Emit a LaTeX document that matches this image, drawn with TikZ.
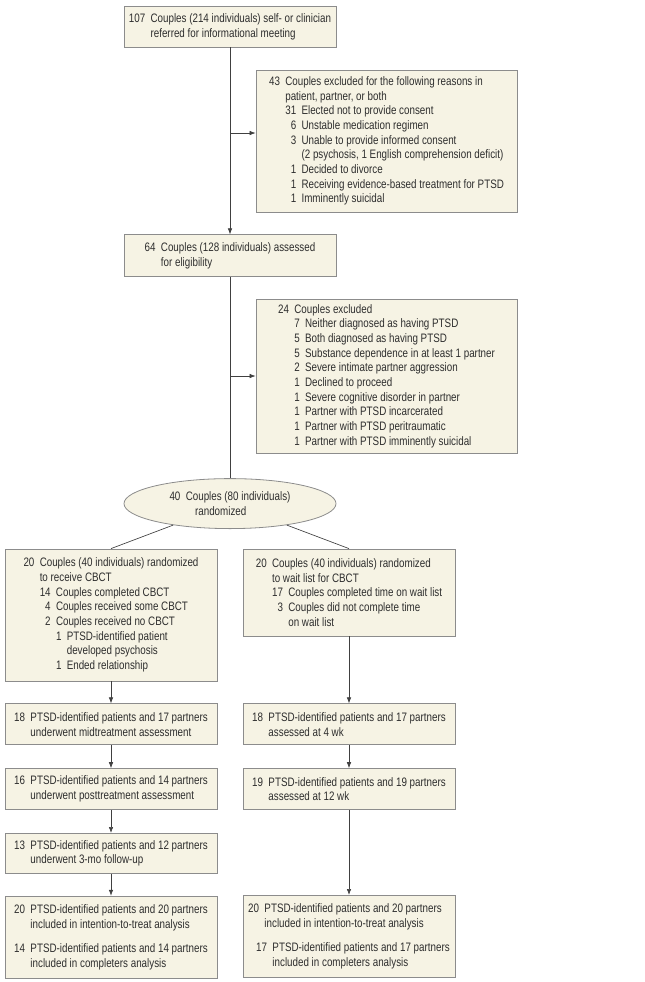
\documentclass[tikz,border=0pt]{standalone}
\usepackage{fontspec}
\setmainfont{Liberation Sans}[FakeStretch=0.8]
\usepackage{tikz}
\usetikzlibrary{arrows.meta, positioning, shapes.geometric}
\definecolor{boxcream}{HTML}{F6F3E4}
\definecolor{boxedge}{HTML}{8C8C8C}
\definecolor{txtgray}{HTML}{2E2E2E}
\newcommand{\nr}[2]{\hphantom{#1}\llap{#2}\hspace{4pt}}
\newcommand{\ind}[1]{\hphantom{#1}\hspace{4pt}}

\begin{document}
\begin{tikzpicture}[x=0.75pt, y=-0.75pt,
  font=\fontsize{9.2}{11}\selectfont, text=txtgray,
  block/.style={rectangle, draw=boxedge, fill=boxcream, line width=0.6pt, minimum width=159pt, align=left, inner sep=0pt},
  exclbox/.style={block, minimum width=195.75pt},
  arrow/.style={-{Latex[length=4.5pt, width=3.4pt]}, line width=0.5pt, draw=black!75},
  link/.style={line width=0.5pt, draw=black!75}]

\useasboundingbox (0,0) rectangle (645,982);

\node[block, minimum height=30.75pt] (refer) at (230,26.5)
  {\nr{000}{107}Couples (214 individuals) self- or clinician\\\ind{000}referred for informational meeting};
\node[block, minimum height=31.5pt, below=140.25pt of refer] (assess)
  {\nr{00}{64}Couples (128 individuals) assessed\\\ind{00}for eligibility};
\node[exclbox, minimum height=106.5pt] (excl1) at (386.5,141)
  {\nr{00}{43}Couples excluded for the following reasons in\\
   \ind{00}patient, partner, or both\\
   \ind{00}\nr{00}{31}Elected not to provide consent\\
   \ind{00}\nr{00}{6}Unstable medication regimen\\
   \ind{00}\nr{00}{3}Unable to provide informed consent\\
   \ind{00}\ind{00}(2 psychosis, 1 English comprehension deficit)\\
   \ind{00}\nr{00}{1}Decided to divorce\\
   \ind{00}\nr{00}{1}Receiving evidence-based treatment for PTSD\\
   \ind{00}\nr{00}{1}Imminently suicidal};
\node[exclbox, minimum height=115.5pt] (excl2) at (386.5,376)
  {\nr{00}{24}Couples excluded\\
   \ind{00}\nr{0}{7}Neither diagnosed as having PTSD\\
   \ind{00}\nr{0}{5}Both diagnosed as having PTSD\\
   \ind{00}\nr{0}{5}Substance dependence in at least 1 partner\\
   \ind{00}\nr{0}{2}Severe intimate partner aggression\\
   \ind{00}\nr{0}{1}Declined to proceed\\
   \ind{00}\nr{0}{1}Severe cognitive disorder in partner\\
   \ind{00}\nr{0}{1}Partner with PTSD incarcerated\\
   \ind{00}\nr{0}{1}Partner with PTSD peritraumatic\\
   \ind{00}\nr{0}{1}Partner with PTSD imminently suicidal};
\node[ellipse, draw=boxedge, fill=boxcream, line width=0.6pt, minimum width=159pt, minimum height=37.5pt, inner sep=0pt, align=left, below=150.75pt of assess] (rand)
  {\nr{00}{40}Couples (80 individuals)\\\ind{00}\hspace{7pt}randomized};

\node[block, minimum height=99pt] (cbct) at (111,615)
  {\nr{00}{20}Couples (40 individuals) randomized\\
   \ind{00}to receive CBCT\\
   \ind{00}\nr{00}{14}Couples completed CBCT\\
   \ind{00}\nr{00}{4}Couples received some CBCT\\
   \ind{00}\nr{00}{2}Couples received no CBCT\\
   \ind{00}\ind{00}\nr{0}{1}PTSD-identified patient\\
   \ind{00}\ind{00}\ind{0}developed psychosis\\
   \ind{00}\ind{00}\nr{0}{1}Ended relationship};
\node[block, minimum height=65.25pt] (wait) at (349,592.5)
  {\nr{00}{20}Couples (40 individuals) randomized\\
   \ind{00}to wait list for CBCT\\
   \ind{00}\nr{00}{17}Couples completed time on wait list\\
   \ind{00}\nr{00}{3}Couples did not complete time\\
   \ind{00}\ind{00}on wait list};

\node[block, minimum height=30.75pt, below=16.5pt of cbct] (mid)
  {\nr{00}{18}PTSD-identified patients and 17 partners\\\ind{00}underwent midtreatment assessment};
\node[block, minimum height=30.75pt, below=17.25pt of mid] (post)
  {\nr{00}{16}PTSD-identified patients and 14 partners\\\ind{00}underwent posttreatment assessment};
\node[block, minimum height=30pt, below=17.25pt of post] (follow)
  {\nr{00}{13}PTSD-identified patients and 12 partners\\\ind{00}underwent 3-mo follow-up};
\node[block, minimum height=61.5pt, below=16.5pt of follow] (cbctan)
  {\nr{00}{20}PTSD-identified patients and 20 partners\\
   \ind{00}included in intention-to-treat analysis\\[7.5pt]
   \nr{00}{14}PTSD-identified patients and 14 partners\\
   \ind{00}included in completers analysis};

\node[block, minimum height=30.75pt, below=50.25pt of wait] (wk4)
  {\nr{00}{18}PTSD-identified patients and 17 partners\\\ind{00}assessed at 4 wk};
\node[block, minimum height=30.75pt, below=17.25pt of wk4] (wk12)
  {\nr{00}{19}PTSD-identified patients and 19 partners\\\ind{00}assessed at 12 wk};
\node[block, minimum height=61.5pt, below=63.75pt of wk12] (waitan)
  {\nr{00}{20}PTSD-identified patients and 20 partners\\
   \ind{00}included in intention-to-treat analysis\\[7.5pt]
   \hspace*{6pt}\nr{00}{17}PTSD-identified patients and 17 partners\\
   \hspace*{6pt}\ind{00}included in completers analysis};

\coordinate (br1) at (230,133);
\coordinate (br2) at (assess.south |- excl2.west);

\draw[arrow] (refer) -- (assess);
\draw[arrow] (br1) -- (br1 -| excl1.west);
\draw[link] (assess) -- (rand);
\draw[arrow] (br2) -- (excl2.west);
\draw[link] (rand) -- (cbct.north);
\draw[link] (rand) -- (wait.north);
\draw[arrow] (cbct) -- (mid);
\draw[arrow] (mid) -- (post);
\draw[arrow] (post) -- (follow);
\draw[arrow] (follow) -- (cbctan);
\draw[arrow] (wait) -- (wk4);
\draw[arrow] (wk4) -- (wk12);
\draw[arrow] (wk12) -- (waitan);
\end{tikzpicture}
\end{document}
